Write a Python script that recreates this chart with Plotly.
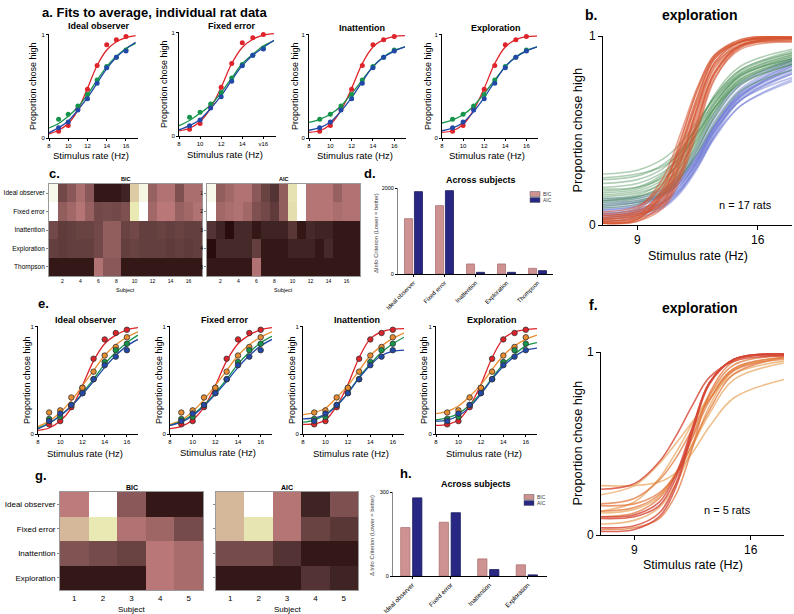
import math
import plotly.graph_objects as go

W, H = 794, 614

# ---------------- data ----------------
rate_hz = [9, 10, 11, 12, 13, 14, 15, 16]
fit_hz = [8, 9, 10, 11, 12, 13, 14, 15, 16, 17]

# panel a: average data (17 rats)
avg_red = [0.065, 0.12, 0.28, 0.47, 0.70, 0.90, 0.95, 0.98]
avg_green = [0.18, 0.23, 0.31, 0.42, 0.56, 0.69, 0.78, 0.85]
avg_blue = [0.10, 0.155, 0.27, 0.38, 0.53, 0.68, 0.78, 0.84]

a_ideal_red = [0.04, 0.075, 0.14, 0.27, 0.48, 0.70, 0.85, 0.93, 0.97, 0.99]
a_ideal_green = [0.097, 0.14, 0.21, 0.30, 0.42, 0.56, 0.69, 0.79, 0.865, 0.915]
a_ideal_blue = [0.05, 0.10, 0.165, 0.27, 0.39, 0.53, 0.67, 0.78, 0.86, 0.925]
a_fixed_red = [0.05, 0.075, 0.14, 0.27, 0.47, 0.70, 0.855, 0.935, 0.975, 0.99]
a_fixed_green = [0.10, 0.15, 0.22, 0.30, 0.42, 0.56, 0.70, 0.79, 0.87, 0.92]
a_fixed_blue = [0.06, 0.10, 0.16, 0.265, 0.39, 0.54, 0.68, 0.78, 0.855, 0.925]
a_inatt_red = [0.055, 0.07, 0.13, 0.27, 0.48, 0.72, 0.88, 0.95, 0.982, 0.99]
a_inatt_green = [0.15, 0.18, 0.23, 0.31, 0.43, 0.56, 0.69, 0.785, 0.845, 0.88]
a_inatt_blue = [0.075, 0.10, 0.155, 0.26, 0.39, 0.545, 0.69, 0.78, 0.84, 0.88]
a_explo_red = [0.055, 0.07, 0.13, 0.27, 0.48, 0.72, 0.88, 0.95, 0.98, 0.985]
a_explo_green = [0.145, 0.175, 0.225, 0.31, 0.43, 0.56, 0.69, 0.785, 0.845, 0.88]
a_explo_blue = [0.07, 0.095, 0.15, 0.255, 0.39, 0.545, 0.69, 0.78, 0.84, 0.88]

# panel e: average data (5 rats)
e_red = [0.09, 0.12, 0.25, 0.43, 0.70, 0.88, 0.94, 0.97]
e_orange = [0.20, 0.22, 0.34, 0.43, 0.58, 0.73, 0.81, 0.90]
e_green = [0.14, 0.16, 0.27, 0.38, 0.51, 0.67, 0.78, 0.84]
e_blue = [0.12, 0.19, 0.27, 0.38, 0.51, 0.64, 0.72, 0.78]

e_ideal_red = [0.034, 0.056, 0.12, 0.24, 0.45, 0.68, 0.84, 0.92, 0.97, 0.99]
e_ideal_orange = [0.07, 0.12, 0.20, 0.31, 0.45, 0.59, 0.73, 0.83, 0.90, 0.95]
e_ideal_green = [0.056, 0.10, 0.17, 0.26, 0.38, 0.51, 0.65, 0.76, 0.85, 0.92]
e_ideal_blue = [0.047, 0.10, 0.17, 0.26, 0.37, 0.49, 0.62, 0.73, 0.82, 0.88]
e_fixed_red = [0.05, 0.07, 0.13, 0.25, 0.45, 0.68, 0.84, 0.92, 0.97, 0.99]
e_fixed_orange = [0.09, 0.13, 0.21, 0.32, 0.45, 0.59, 0.73, 0.83, 0.90, 0.95]
e_fixed_green = [0.08, 0.12, 0.18, 0.27, 0.38, 0.51, 0.65, 0.76, 0.85, 0.91]
e_fixed_blue = [0.08, 0.11, 0.17, 0.26, 0.37, 0.49, 0.62, 0.73, 0.82, 0.88]
e_inatt_red = [0.09, 0.094, 0.13, 0.26, 0.46, 0.71, 0.885, 0.95, 0.975, 0.98]
e_inatt_orange = [0.18, 0.20, 0.24, 0.34, 0.45, 0.59, 0.73, 0.82, 0.89, 0.94]
e_inatt_green = [0.11, 0.13, 0.18, 0.27, 0.38, 0.53, 0.65, 0.76, 0.84, 0.90]
e_inatt_blue = [0.14, 0.15, 0.18, 0.26, 0.38, 0.52, 0.64, 0.73, 0.77, 0.78]
e_explo_red = [0.08, 0.09, 0.13, 0.26, 0.46, 0.71, 0.885, 0.95, 0.97, 0.98]
e_explo_orange = [0.19, 0.21, 0.26, 0.35, 0.46, 0.60, 0.73, 0.82, 0.88, 0.92]
e_explo_green = [0.13, 0.15, 0.19, 0.27, 0.38, 0.52, 0.65, 0.74, 0.82, 0.85]
e_explo_blue = [0.12, 0.13, 0.17, 0.25, 0.37, 0.51, 0.63, 0.72, 0.78, 0.80]

# panels b / f: individual fitted curves sampled at these rates
curve_hz = [7, 9, 10.5, 11.5, 12.5, 13.5, 15, 18]
b_red = [
    [0.01, 0.02, 0.12, 0.32, 0.62, 0.86, 0.97, 1.00],
    [0.01, 0.03, 0.16, 0.38, 0.66, 0.88, 0.97, 0.99],
    [0.02, 0.05, 0.20, 0.42, 0.68, 0.88, 0.97, 0.99],
    [0.03, 0.06, 0.15, 0.33, 0.58, 0.81, 0.95, 0.99],
    [0.05, 0.08, 0.22, 0.45, 0.71, 0.89, 0.97, 0.99],
    [0.01, 0.03, 0.10, 0.27, 0.54, 0.80, 0.95, 0.99],
    [0.04, 0.07, 0.18, 0.37, 0.62, 0.84, 0.96, 0.99],
    [0.02, 0.04, 0.13, 0.30, 0.56, 0.80, 0.94, 0.98],
    [0.06, 0.09, 0.25, 0.48, 0.73, 0.90, 0.97, 0.99],
    [0.03, 0.05, 0.14, 0.34, 0.63, 0.86, 0.97, 1.00],
    [0.01, 0.02, 0.09, 0.24, 0.50, 0.77, 0.94, 0.99],
    [0.07, 0.10, 0.22, 0.41, 0.65, 0.85, 0.95, 0.97],
    [0.02, 0.04, 0.17, 0.40, 0.68, 0.89, 0.98, 1.00],
    [0.04, 0.06, 0.12, 0.28, 0.55, 0.81, 0.95, 0.98],
    [0.01, 0.03, 0.19, 0.44, 0.72, 0.90, 0.98, 1.00],
    [0.05, 0.07, 0.16, 0.35, 0.60, 0.83, 0.95, 0.98],
    [0.03, 0.05, 0.11, 0.26, 0.52, 0.78, 0.93, 0.97],
]
b_green = [
    [0.27, 0.29, 0.35, 0.43, 0.55, 0.67, 0.80, 0.90],
    [0.24, 0.26, 0.32, 0.40, 0.52, 0.65, 0.79, 0.88],
    [0.20, 0.22, 0.28, 0.36, 0.48, 0.62, 0.77, 0.87],
    [0.17, 0.19, 0.26, 0.36, 0.50, 0.66, 0.81, 0.91],
    [0.15, 0.17, 0.22, 0.31, 0.45, 0.60, 0.76, 0.86],
    [0.13, 0.15, 0.21, 0.31, 0.47, 0.64, 0.80, 0.90],
    [0.12, 0.14, 0.19, 0.27, 0.41, 0.57, 0.74, 0.85],
    [0.10, 0.12, 0.18, 0.28, 0.44, 0.62, 0.79, 0.89],
    [0.22, 0.24, 0.30, 0.39, 0.53, 0.68, 0.82, 0.92],
    [0.16, 0.18, 0.24, 0.34, 0.49, 0.64, 0.79, 0.88],
    [0.11, 0.13, 0.17, 0.25, 0.38, 0.54, 0.71, 0.82],
    [0.19, 0.20, 0.25, 0.33, 0.46, 0.62, 0.78, 0.89],
    [0.14, 0.16, 0.23, 0.35, 0.52, 0.69, 0.84, 0.93],
    [0.25, 0.27, 0.31, 0.38, 0.49, 0.62, 0.75, 0.85],
    [0.09, 0.11, 0.16, 0.25, 0.40, 0.58, 0.76, 0.87],
    [0.18, 0.20, 0.27, 0.38, 0.53, 0.68, 0.82, 0.91],
    [0.13, 0.15, 0.20, 0.29, 0.43, 0.60, 0.77, 0.88],
]
b_blue = [
    [0.05, 0.07, 0.12, 0.20, 0.34, 0.51, 0.70, 0.85],
    [0.08, 0.10, 0.15, 0.23, 0.36, 0.52, 0.69, 0.82],
    [0.03, 0.05, 0.10, 0.18, 0.31, 0.48, 0.67, 0.80],
    [0.12, 0.13, 0.17, 0.24, 0.36, 0.52, 0.69, 0.84],
    [0.06, 0.08, 0.14, 0.23, 0.38, 0.55, 0.72, 0.87],
    [0.10, 0.12, 0.16, 0.22, 0.33, 0.47, 0.63, 0.76],
    [0.04, 0.06, 0.11, 0.19, 0.33, 0.50, 0.68, 0.83],
    [0.14, 0.15, 0.19, 0.26, 0.38, 0.53, 0.70, 0.85],
    [0.07, 0.09, 0.13, 0.21, 0.34, 0.50, 0.66, 0.78],
    [0.02, 0.04, 0.09, 0.17, 0.30, 0.47, 0.66, 0.81],
    [0.09, 0.11, 0.17, 0.27, 0.42, 0.59, 0.75, 0.88],
    [0.05, 0.07, 0.12, 0.21, 0.35, 0.53, 0.71, 0.86],
    [0.11, 0.12, 0.16, 0.23, 0.35, 0.50, 0.66, 0.80],
    [0.06, 0.08, 0.12, 0.19, 0.31, 0.46, 0.63, 0.77],
    [0.08, 0.10, 0.16, 0.25, 0.40, 0.57, 0.74, 0.87],
    [0.13, 0.14, 0.18, 0.25, 0.37, 0.52, 0.68, 0.82],
    [0.04, 0.06, 0.10, 0.18, 0.32, 0.49, 0.68, 0.84],
]
f_red = [
    [0.02, 0.03, 0.10, 0.26, 0.56, 0.82, 0.96, 0.99],
    [0.04, 0.05, 0.12, 0.28, 0.57, 0.83, 0.96, 0.99],
    [0.09, 0.10, 0.16, 0.31, 0.58, 0.83, 0.96, 0.99],
    [0.10, 0.11, 0.18, 0.33, 0.59, 0.83, 0.96, 0.98],
    [0.25, 0.28, 0.40, 0.54, 0.71, 0.86, 0.95, 0.98],
]
f_orange = [
    [0.10, 0.12, 0.20, 0.33, 0.54, 0.76, 0.93, 0.98],
    [0.13, 0.15, 0.22, 0.34, 0.53, 0.73, 0.91, 0.97],
    [0.17, 0.20, 0.30, 0.42, 0.58, 0.74, 0.90, 0.96],
    [0.16, 0.17, 0.23, 0.33, 0.50, 0.68, 0.88, 0.97],
    [0.03, 0.04, 0.09, 0.22, 0.48, 0.77, 0.95, 0.99],
]
f_light = [
    [0.22, 0.27, 0.39, 0.50, 0.62, 0.74, 0.88, 0.95],
    [0.27, 0.27, 0.29, 0.34, 0.45, 0.59, 0.75, 0.85],
    [0.12, 0.14, 0.21, 0.33, 0.49, 0.66, 0.85, 0.94],
    [0.06, 0.08, 0.15, 0.28, 0.48, 0.70, 0.90, 0.97],
    [0.13, 0.18, 0.31, 0.45, 0.61, 0.76, 0.91, 0.97],
]

# panels c / g: information-criterion matrices (normalised)
c_models = ["Ideal observer", "Fixed error", "Inattention", "Exploration", "Thompson"]
c_subjects = list(range(1, 18))
c_bic = [
    [0.92, 0.12, 0.18, 0.28, 0.18, 0.02, 0.02, 0.02, 0.03, 0.62, 0.90, 0.22, 0.30, 0.30, 0.15, 0.28, 0.28],
    [1.00, 0.20, 0.25, 0.32, 0.22, 0.12, 0.13, 0.12, 0.15, 0.75, 1.00, 0.25, 0.33, 0.33, 0.22, 0.25, 0.30],
    [0.12, 0.08, 0.09, 0.10, 0.10, 0.12, 0.20, 0.20, 0.10, 0.12, 0.09, 0.09, 0.10, 0.09, 0.10, 0.09, 0.09],
    [0.09, 0.08, 0.09, 0.09, 0.09, 0.12, 0.20, 0.20, 0.09, 0.10, 0.09, 0.09, 0.09, 0.08, 0.09, 0.08, 0.09],
    [0.02, 0.02, 0.02, 0.02, 0.02, 0.30, 0.18, 0.18, 0.02, 0.02, 0.02, 0.02, 0.02, 0.02, 0.02, 0.02, 0.02],
]
c_aic = [
    [0.92, 0.20, 0.25, 0.30, 0.30, 0.18, 0.10, 0.06, 0.20, 0.72, 1.00, 0.32, 0.32, 0.32, 0.22, 0.30, 0.30],
    [1.00, 0.25, 0.28, 0.30, 0.25, 0.15, 0.12, 0.08, 0.20, 0.70, 1.00, 0.32, 0.32, 0.32, 0.28, 0.30, 0.30],
    [0.06, 0.03, 0.01, 0.04, 0.04, 0.02, 0.03, 0.03, 0.03, 0.07, 0.02, 0.04, 0.03, 0.03, 0.02, 0.02, 0.02],
    [0.01, 0.04, 0.04, 0.04, 0.04, 0.09, 0.02, 0.02, 0.02, 0.03, 0.03, 0.03, 0.02, 0.04, 0.02, 0.02, 0.02],
    [0.02, 0.02, 0.02, 0.02, 0.02, 0.30, 0.02, 0.02, 0.02, 0.02, 0.02, 0.02, 0.02, 0.02, 0.02, 0.02, 0.02],
]
g_models = ["Ideal observer", "Fixed error", "Inattention", "Exploration"]
g_subjects = [1, 2, 3, 4, 5]
g_bic = [
    [0.35, 1.00, 0.18, 0.02, 0.02],
    [0.55, 0.75, 0.30, 0.24, 0.13],
    [0.16, 0.13, 0.10, 0.33, 0.27],
    [0.02, 0.02, 0.02, 0.33, 0.27],
]
g_aic = [
    [0.55, 1.00, 0.32, 0.03, 0.15],
    [0.55, 0.73, 0.32, 0.10, 0.07],
    [0.13, 0.13, 0.06, 0.02, 0.02],
    [0.02, 0.02, 0.02, 0.06, 0.03],
]

# panels d / h: summed delta info criterion
d_models = ["Ideal observer", "Fixed error", "Inattention", "Exploration", "Thompson"]
d_bic = [1287, 1589, 233, 233, 132]
d_aic = [1915, 1938, 39, 39, 78]
h_models = ["Ideal observer", "Fixed error", "Inattention", "Exploration"]
h_bic = [173, 192, 61, 40]
h_aic = [279, 226, 23, 4]

# ---------------- styling helpers ----------------
RED = "rgb(222,35,42)"
GREEN = "rgb(22,148,76)"
BLUE = "rgb(34,72,168)"
ORANGE = "rgb(232,142,48)"
BIC_C = "rgb(206,146,146)"
AIC_C = "rgb(40,40,132)"


def pink_rgb(t):
    hr = min(1.0, (t + 1 / 64) / 0.375)
    hg = min(1.0, max(0.0, (t - 0.375) / 0.375))
    hb = max(0.0, (t - 0.75) / 0.25)
    r = math.sqrt((2 * t + hr) / 3)
    g = math.sqrt((2 * t + hg) / 3)
    b = math.sqrt((2 * t + hb) / 3)
    return "rgb(%d,%d,%d)" % (round(min(r, 1) * 255), round(min(g, 1) * 255), round(min(b, 1) * 255))


pink_scale = [[i / 32, pink_rgb(i / 32)] for i in range(33)]

fig = go.Figure()
layout = dict(
    width=W, height=H, margin=dict(l=0, r=0, t=0, b=0, pad=0, autoexpand=False), autosize=False,
    paper_bgcolor="white", plot_bgcolor="white", showlegend=False,
    font=dict(family="Liberation Sans, Arial, sans-serif", color="black"),
    barmode="overlay",
)
annotations = []
shapes = []
_count = [0]


def new_axes(x0, x1, ytop, ybot, xa, ya):
    _count[0] += 1
    n = _count[0]
    s = "" if n == 1 else str(n)
    xa = dict(xa)
    ya = dict(ya)
    xa.update(domain=[x0 / W, x1 / W], anchor="y" + s, automargin=False)
    ya.update(domain=[1 - ybot / H, 1 - ytop / H], anchor="x" + s, automargin=False)
    layout["xaxis" + s] = xa
    layout["yaxis" + s] = ya
    return "x" + s, "y" + s


def line_axis(rng, tickvals, ticktext=None, fs=6, ticklen=2):
    d = dict(range=rng, tickvals=tickvals, showline=True, linecolor="black", linewidth=1,
             ticks="outside", ticklen=ticklen, tickwidth=0.8, tickcolor="black",
             tickfont=dict(size=fs), showgrid=False, zeroline=False, fixedrange=True)
    if ticktext is not None:
        d["ticktext"] = ticktext
    return d


def text(x, y, s, size, bold=False, xanchor="center", angle=0, color="black"):
    annotations.append(dict(
        x=x / W, y=1 - y / H, xref="paper", yref="paper",
        text=("<b>%s</b>" % s) if bold else s, showarrow=False,
        xanchor=xanchor, yanchor="middle", textangle=angle,
        font=dict(size=size, color=color)))


def psy_panel(x0, x1, ytop, ybot, xmax, fits, colors, data, title, tcx, tcy, ylab_x, xlab_y,
              xticktext=None, outline=False):
    xa = line_axis([8, xmax], [8, 10, 12, 14, 16], xticktext, fs=6)
    ya = line_axis([0, 1.005], [0, 1], fs=6)
    xr, yr = new_axes(x0, x1, ytop, ybot, xa, ya)
    for f, c in zip(fits, colors):
        fig.add_trace(go.Scatter(x=fit_hz, y=f, mode="lines", line=dict(color=c, width=1.3, shape="spline"),
                                 xaxis=xr, yaxis=yr, hoverinfo="skip"))
    for dat, c in zip(data, colors):
        mk = dict(color=c, size=5)
        if outline:
            mk = dict(color=c, size=5.5, line=dict(color="rgb(50,50,50)", width=0.8))
        fig.add_trace(go.Scatter(x=rate_hz, y=dat, mode="markers", marker=mk, xaxis=xr, yaxis=yr,
                                 hoverinfo="skip"))
    text(tcx, tcy, title, 9, bold=True)
    text(ylab_x, (ytop + ybot) / 2, "Proportion chose high", 9, angle=-90)
    text((x0 + x1) / 2 - 3, xlab_y, "Stimulus rate (Hz)", 9.5)


# ---------------- panel a ----------------
text(40, 12, "a. Fits to average, individual rat data", 13, bold=True, xanchor="left")
a_cols = [RED, GREEN, BLUE]
a_dat = [avg_red, avg_green, avg_blue]
psy_panel(49, 138, 34, 138, 17.25, [a_ideal_red, a_ideal_green, a_ideal_blue], a_cols, a_dat,
          "Ideal observer", 99, 26, 33, 155)
psy_panel(179, 276, 32, 136, 17.2, [a_fixed_red, a_fixed_green, a_fixed_blue], a_cols, a_dat,
          "Fixed error", 232, 26, 164, 154, xticktext=["8", "10", "12", "14", "v16"])
psy_panel(309, 406, 34, 138, 17.1, [a_inatt_red, a_inatt_green, a_inatt_blue], a_cols, a_dat,
          "Inattention", 362, 28, 295, 155)
psy_panel(442, 538, 34, 138, 17.1, [a_explo_red, a_explo_green, a_explo_blue], a_cols, a_dat,
          "Exploration", 496, 28, 428, 155)

# ---------------- panel e ----------------
text(36, 303, "e.", 13, bold=True, xanchor="left")
e_cols = [RED, ORANGE, GREEN, BLUE]
e_dat = [e_red, e_orange, e_green, e_blue]
psy_panel(38, 138, 326, 434, 17.0, [e_ideal_red, e_ideal_orange, e_ideal_green, e_ideal_blue], e_cols, e_dat,
          "Ideal observer", 86, 320, 27, 453, outline=True)
psy_panel(170, 272, 326, 434, 17.0, [e_fixed_red, e_fixed_orange, e_fixed_green, e_fixed_blue], e_cols, e_dat,
          "Fixed error", 225, 320, 159, 452, outline=True)
psy_panel(303, 404, 326, 434, 17.0, [e_inatt_red, e_inatt_orange, e_inatt_green, e_inatt_blue], e_cols, e_dat,
          "Inattention", 357, 320, 292, 453, outline=True)
psy_panel(436, 537, 326, 434, 17.0, [e_explo_red, e_explo_orange, e_explo_green, e_explo_blue], e_cols, e_dat,
          "Exploration", 492, 320, 424, 453, outline=True)


# ---------------- panels b and f ----------------
def big_panel(x0, x1, ytop, ybot, groups, label, lx, ly, title_y, n_text, nx, ny, xlab_y):
    xa = line_axis([7, 18], [9, 16], fs=12, ticklen=4)
    ya = line_axis([0, 1.0], [0, 1], fs=12, ticklen=4)
    xr, yr = new_axes(x0, x1, ytop, ybot, xa, ya)
    for curves, col in groups:
        for cv in curves:
            fig.add_trace(go.Scatter(x=curve_hz, y=cv, mode="lines",
                                     line=dict(color=col, width=1.6, shape="spline", smoothing=1.0),
                                     xaxis=xr, yaxis=yr, hoverinfo="skip"))
    text(lx, ly, label, 14, bold=True, xanchor="left")
    text(699, title_y, "exploration", 14, bold=True)
    text(577, (ytop + ybot) / 2, "Proportion chose high", 12.8, angle=-90)
    text((x0 + x1) / 2, xlab_y, "Stimulus rate (Hz)", 12.5)
    text(nx, ny, n_text, 11)


big_panel(603, 792, 36, 225,
          [(b_blue, "rgba(105,115,210,0.45)"), (b_green, "rgba(70,140,80,0.42)"),
           (b_red, "rgba(214,84,48,0.55)")],
          "b.", 583, 15, 15, "n = 17 rats", 745, 205, 256)
big_panel(601, 784, 352, 535,
          [(f_light, "rgba(234,168,100,0.75)"), (f_orange, "rgba(226,120,62,0.75)"),
           (f_red, "rgba(212,70,52,0.8)")],
          "f.", 587, 305, 308, "n = 5 rats", 727, 510, 565)


# ---------------- heatmaps c and g ----------------
def heat(x0, x1, ytop, ybot, z, xs, names, yticktext, xtickvals, xfs, yfs, title, tfs, subj_y, sfs):
    xa = dict(range=[xs[0] - 0.5, xs[-1] + 0.5], tickvals=xtickvals, tickfont=dict(size=xfs),
              ticks="", showline=True, mirror=True, linecolor="#9a9a9a", linewidth=0.8,
              showgrid=False, zeroline=False, fixedrange=True)
    ya = dict(range=[len(names) + 0.5, 0.5], tickvals=list(range(1, len(names) + 1)),
              ticktext=yticktext, tickfont=dict(size=yfs), ticks="outside", ticklen=2,
              tickcolor="#888", showline=True, mirror=True, linecolor="#9a9a9a", linewidth=0.8,
              showgrid=False, zeroline=False, fixedrange=True)
    xr, yr = new_axes(x0, x1, ytop, ybot, xa, ya)
    fig.add_trace(go.Heatmap(z=z, x=xs, y=list(range(1, len(names) + 1)), colorscale=pink_scale,
                             zmin=0, zmax=1, showscale=False, xaxis=xr, yaxis=yr, hoverinfo="skip"))
    text((x0 + x1) / 2, ytop - 5, title, tfs, bold=True)
    text((x0 + x1) / 2, subj_y, "Subject", sfs)


text(47, 173, "c.", 13, bold=True, xanchor="left")
heat(49, 202, 184, 276, c_bic, c_subjects, c_models, c_models, list(range(2, 17, 2)), 5, 6.5,
     "BIC", 5.5, 290, 5.5)
heat(207, 360, 184, 276, c_aic, c_subjects, c_models, [str(i) for i in range(1, 6)],
     list(range(2, 17, 2)), 5, 5, "AIC", 5.5, 290, 5.5)

text(33, 475, "g.", 13, bold=True, xanchor="left")
heat(60, 203, 492, 590, g_bic, g_subjects, g_models, g_models, g_subjects, 8, 8,
     "BIC", 7, 609, 8)
heat(216, 358, 492, 590, g_aic, g_subjects, g_models, [""] * 4, g_subjects, 8, 8,
     "AIC", 7, 609, 8)


# ---------------- bar panels d and h ----------------
def bars(x0, x1, ytop, ybot, names, bic, aic, ymax, width, off_b, off_a, xfs, yfs, title, tfs,
         ylab, ylab_x, leg_x, leg_y):
    n = len(names)
    xa = dict(range=[-0.5, n - 0.5], tickvals=list(range(n)), ticktext=names, tickangle=-45,
              tickfont=dict(size=xfs), showline=True, linecolor="black", linewidth=1,
              ticks="outside", ticklen=2, tickcolor="black", showgrid=False, zeroline=False,
              fixedrange=True)
    ya = line_axis([0, ymax], [0, ymax], fs=yfs)
    ya["linecolor"] = "#888"
    xr, yr = new_axes(x0, x1, ytop, ybot, xa, ya)
    fig.add_trace(go.Bar(x=list(range(n)), y=bic, width=width, offset=off_b,
                         marker=dict(color=BIC_C, line=dict(color="rgb(175,115,115)", width=0.8)),
                         xaxis=xr, yaxis=yr, hoverinfo="skip"))
    fig.add_trace(go.Bar(x=list(range(n)), y=aic, width=width, offset=off_a,
                         marker=dict(color=AIC_C, line=dict(color="rgb(25,25,90)", width=0.8)),
                         xaxis=xr, yaxis=yr, hoverinfo="skip"))
    text((x0 + x1) / 2 + 6, ytop - 8, title, tfs, bold=True)
    text(ylab_x, (ytop + ybot) / 2 + 2, ylab, 5.8, angle=-90, color="rgb(60,60,60)")
    for i, (lab, col) in enumerate([("BIC", BIC_C), ("AIC", AIC_C)]):
        yy = leg_y + i * 6
        shapes.append(dict(type="rect", xref="paper", yref="paper",
                           x0=leg_x / W, x1=(leg_x + 10) / W, y0=1 - (yy + 2.5) / H, y1=1 - (yy - 2.5) / H,
                           fillcolor=col, line=dict(color="rgb(90,90,90)", width=0.5)))
        text(leg_x + 11, yy, lab, 5, xanchor="left", color="rgb(60,60,60)")


text(362, 173, "d.", 13, bold=True, xanchor="left")
bars(398, 553, 188, 274, d_models, d_bic, d_aic, 2000, 0.26, -0.29, 0.03, 6, 5.5,
     "Across subjects", 9, "\u0394Info Criterion (Lower = better)", 376, 530, 194)
text(398, 473, "h.", 13, bold=True, xanchor="left")
bars(393, 547, 492, 576, h_models, h_bic, h_aic, 300, 0.24, -0.30, 0.01, 6.3, 5.5,
     "Across subjects", 9, "\u0394 Info Criterion (Lower = better)", 372, 524, 497)

layout["annotations"] = annotations
layout["shapes"] = shapes
fig.update_layout(**layout)
fig.write_html(
    "out.html",
    config={"displayModeBar": False},
    post_script="document.body.style.margin='0';document.body.style.padding='0';"
                "document.body.style.overflow='hidden';",
)
